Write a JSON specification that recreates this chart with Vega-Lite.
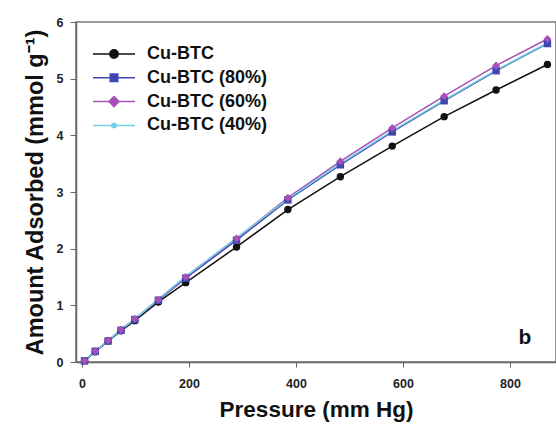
{
  "$schema": "https://vega.github.io/schema/vega-lite/v6.json",
  "width": 480,
  "height": 340,
  "autosize": {"type": "none"},
  "padding": {"left": 76, "top": 22, "right": 0, "bottom": 72},
  "background": "white",
  "config": {
    "font": "Liberation Sans",
    "view": {"stroke": "#777", "strokeWidth": 1.5}
  },
  "data": {
    "values": [
      {"p": 5, "a": 0.02, "series": "Cu-BTC"},
      {"p": 25, "a": 0.18, "series": "Cu-BTC"},
      {"p": 49, "a": 0.37, "series": "Cu-BTC"},
      {"p": 73, "a": 0.55, "series": "Cu-BTC"},
      {"p": 99, "a": 0.73, "series": "Cu-BTC"},
      {"p": 143, "a": 1.06, "series": "Cu-BTC"},
      {"p": 194, "a": 1.40, "series": "Cu-BTC"},
      {"p": 289, "a": 2.03, "series": "Cu-BTC"},
      {"p": 385, "a": 2.69, "series": "Cu-BTC"},
      {"p": 483, "a": 3.27, "series": "Cu-BTC"},
      {"p": 580, "a": 3.81, "series": "Cu-BTC"},
      {"p": 677, "a": 4.33, "series": "Cu-BTC"},
      {"p": 774, "a": 4.80, "series": "Cu-BTC"},
      {"p": 870, "a": 5.25, "series": "Cu-BTC"},
      {"p": 5, "a": 0.02, "series": "Cu-BTC (80%)"},
      {"p": 25, "a": 0.19, "series": "Cu-BTC (80%)"},
      {"p": 49, "a": 0.37, "series": "Cu-BTC (80%)"},
      {"p": 73, "a": 0.56, "series": "Cu-BTC (80%)"},
      {"p": 99, "a": 0.75, "series": "Cu-BTC (80%)"},
      {"p": 143, "a": 1.09, "series": "Cu-BTC (80%)"},
      {"p": 194, "a": 1.48, "series": "Cu-BTC (80%)"},
      {"p": 289, "a": 2.15, "series": "Cu-BTC (80%)"},
      {"p": 385, "a": 2.86, "series": "Cu-BTC (80%)"},
      {"p": 483, "a": 3.48, "series": "Cu-BTC (80%)"},
      {"p": 580, "a": 4.06, "series": "Cu-BTC (80%)"},
      {"p": 677, "a": 4.61, "series": "Cu-BTC (80%)"},
      {"p": 774, "a": 5.14, "series": "Cu-BTC (80%)"},
      {"p": 870, "a": 5.62, "series": "Cu-BTC (80%)"},
      {"p": 5, "a": 0.02, "series": "Cu-BTC (60%)"},
      {"p": 25, "a": 0.19, "series": "Cu-BTC (60%)"},
      {"p": 49, "a": 0.38, "series": "Cu-BTC (60%)"},
      {"p": 73, "a": 0.57, "series": "Cu-BTC (60%)"},
      {"p": 99, "a": 0.76, "series": "Cu-BTC (60%)"},
      {"p": 143, "a": 1.10, "series": "Cu-BTC (60%)"},
      {"p": 194, "a": 1.50, "series": "Cu-BTC (60%)"},
      {"p": 289, "a": 2.18, "series": "Cu-BTC (60%)"},
      {"p": 385, "a": 2.90, "series": "Cu-BTC (60%)"},
      {"p": 483, "a": 3.54, "series": "Cu-BTC (60%)"},
      {"p": 580, "a": 4.13, "series": "Cu-BTC (60%)"},
      {"p": 677, "a": 4.69, "series": "Cu-BTC (60%)"},
      {"p": 774, "a": 5.23, "series": "Cu-BTC (60%)"},
      {"p": 870, "a": 5.70, "series": "Cu-BTC (60%)"},
      {"p": 5, "a": 0.02, "series": "Cu-BTC (40%)"},
      {"p": 25, "a": 0.19, "series": "Cu-BTC (40%)"},
      {"p": 49, "a": 0.38, "series": "Cu-BTC (40%)"},
      {"p": 73, "a": 0.57, "series": "Cu-BTC (40%)"},
      {"p": 99, "a": 0.76, "series": "Cu-BTC (40%)"},
      {"p": 143, "a": 1.11, "series": "Cu-BTC (40%)"},
      {"p": 194, "a": 1.51, "series": "Cu-BTC (40%)"},
      {"p": 289, "a": 2.19, "series": "Cu-BTC (40%)"},
      {"p": 385, "a": 2.88, "series": "Cu-BTC (40%)"},
      {"p": 483, "a": 3.50, "series": "Cu-BTC (40%)"},
      {"p": 580, "a": 4.08, "series": "Cu-BTC (40%)"},
      {"p": 677, "a": 4.62, "series": "Cu-BTC (40%)"},
      {"p": 774, "a": 5.15, "series": "Cu-BTC (40%)"},
      {"p": 870, "a": 5.63, "series": "Cu-BTC (40%)"}
    ]
  },
  "encoding": {
    "x": {
      "field": "p",
      "type": "quantitative",
      "scale": {"domain": [-11, 886], "nice": false, "zero": false},
      "axis": {
        "title": "Pressure (mm Hg)",
        "values": [0, 200, 400, 600, 800],
        "grid": false,
        "domainColor": "#666",
        "domainWidth": 1.5,
        "tickColor": "#666",
        "tickSize": 5,
        "labelFont": "Liberation Sans",
        "labelFontWeight": "bold",
        "labelFontSize": 12.5,
        "labelColor": "#222",
        "labelPadding": 10,
        "titleFont": "Liberation Sans",
        "titleFontWeight": "bold",
        "titleFontSize": 22.5,
        "titleColor": "#111",
        "titlePadding": 9
      }
    },
    "y": {
      "field": "a",
      "type": "quantitative",
      "scale": {"domain": [0, 6], "nice": false},
      "axis": {
        "title": "Amount Adsorbed (mmol g⁻¹)",
        "values": [0, 1, 2, 3, 4, 5, 6],
        "grid": false,
        "domainColor": "#666",
        "domainWidth": 1.5,
        "tickColor": "#666",
        "tickSize": 6,
        "labelFont": "Liberation Sans",
        "labelFontWeight": "bold",
        "labelFontSize": 12.5,
        "labelColor": "#222",
        "labelPadding": 7,
        "titleFont": "Liberation Sans",
        "titleFontWeight": "bold",
        "titleFontSize": 23.5,
        "titleColor": "#111",
        "titlePadding": 9
      }
    },
    "color": {
      "field": "series",
      "type": "nominal",
      "sort": ["Cu-BTC", "Cu-BTC (80%)", "Cu-BTC (60%)", "Cu-BTC (40%)"],
      "scale": {
        "domain": ["Cu-BTC", "Cu-BTC (80%)", "Cu-BTC (60%)", "Cu-BTC (40%)"],
        "range": ["#111111", "#4048b0", "#a850b8", "#70cfe0"]
      },
      "legend": {
        "title": null,
        "orient": "none",
        "legendX": 16,
        "legendY": 21,
        "padding": 0,
        "symbolSize": 1764,
        "symbolStrokeWidth": 1.5,
        "labelOffset": 11,
        "labelFont": "Liberation Sans",
        "labelFontWeight": "bold",
        "labelFontSize": 18,
        "labelColor": "#111",
        "clipHeight": 22,
        "rowPadding": 1.8,
        "encode": {
          "symbols": {
            "update": {
              "shape": {"signal": "datum.value === 'Cu-BTC' ? 'M-1,0H1M0.2,0A0.2,0.2,0,1,1,-0.2,0A0.2,0.2,0,1,1,0.2,0Z' : datum.value === 'Cu-BTC (80%)' ? 'M-1,0H1M-0.18,-0.18H0.18V0.18H-0.18Z' : datum.value === 'Cu-BTC (60%)' ? 'M-1,0H1M0,-0.24L0.24,0L0,0.24L-0.24,0Z' : 'M-1,0H1M0.1,0A0.1,0.1,0,1,1,-0.1,0A0.1,0.1,0,1,1,0.1,0Z'"},
              "size": {"value": 1764},
              "fill": {"scale": "color", "field": "value"},
              "stroke": {"scale": "color", "field": "value"},
              "opacity": {"value": 1},
              "fillOpacity": {"value": 1},
              "strokeWidth": {"value": 1.5}
            }
          }
        }
      }
    }
  },
  "layer": [
    {
      "mark": {"type": "line", "strokeWidth": 1.5},
      "encoding": {"detail": {"field": "series"}}
    },
    {
      "transform": [{"filter": "datum.series === 'Cu-BTC'"}],
      "mark": {"type": "point", "filled": true, "opacity": 1, "shape": "circle", "size": 55}
    },
    {
      "transform": [{"filter": "datum.series === 'Cu-BTC (40%)'"}],
      "mark": {"type": "point", "filled": true, "opacity": 1, "shape": "circle", "size": 12}
    },
    {
      "transform": [{"filter": "datum.series === 'Cu-BTC (80%)'"}],
      "mark": {"type": "point", "filled": true, "opacity": 1, "shape": "square", "size": 55}
    },
    {
      "transform": [{"filter": "datum.series === 'Cu-BTC (60%)'"}],
      "mark": {"type": "point", "filled": true, "opacity": 1, "shape": "diamond", "size": 65}
    },
    {
      "data": {"values": [{"p": 828, "a": 0.42, "t": "b"}]},
      "mark": {"type": "text", "font": "Liberation Sans", "fontWeight": "bold", "fontSize": 21},
      "encoding": {
        "x": {"field": "p", "type": "quantitative"},
        "y": {"field": "a", "type": "quantitative"},
        "text": {"field": "t"},
        "color": {"value": "#111"}
      }
    }
  ]
}
